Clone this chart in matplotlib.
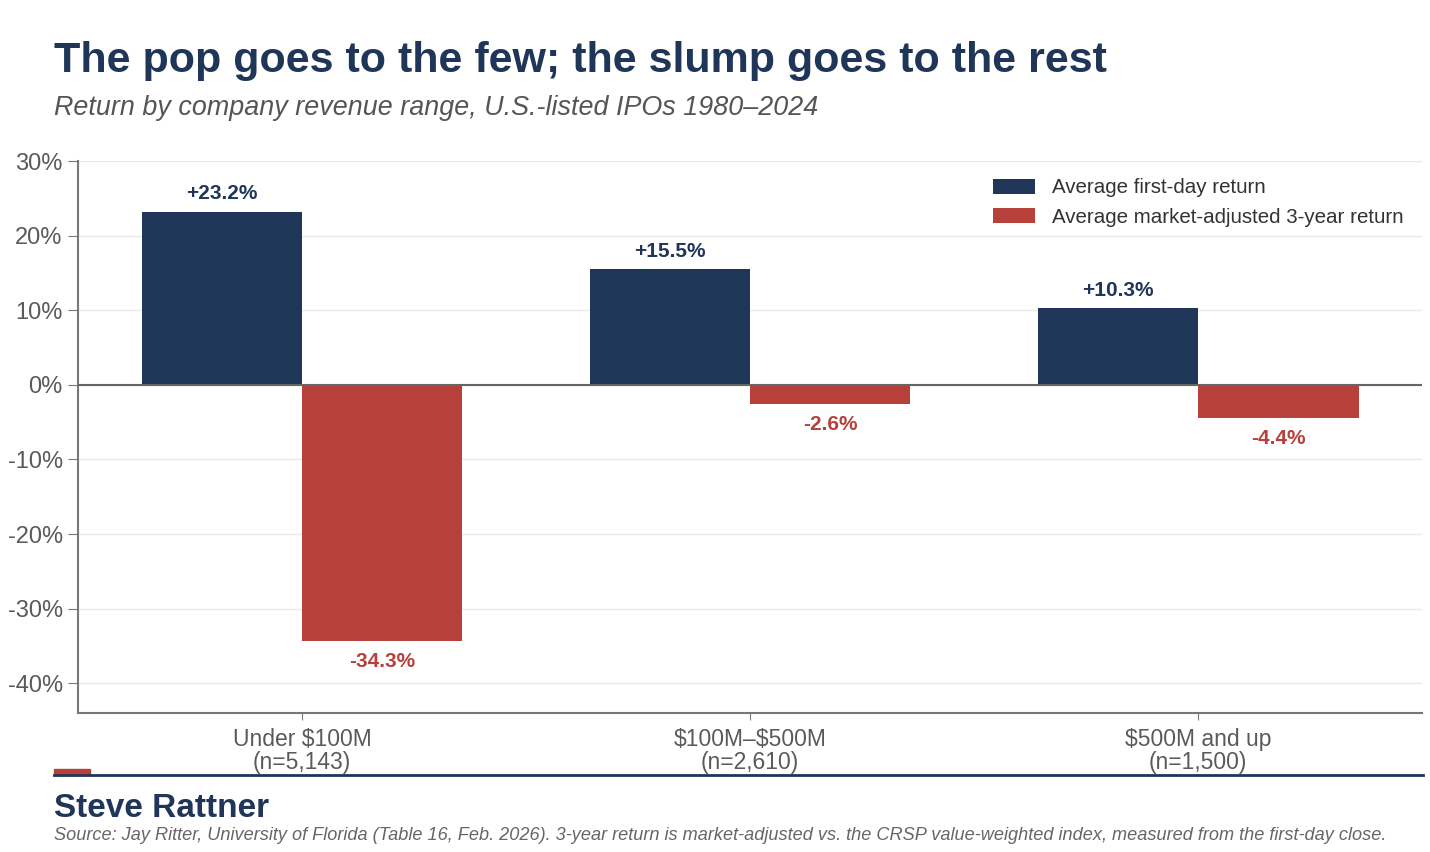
import numpy as np
import matplotlib.pyplot as plt

plt.rcParams['font.family'] = ['Liberation Sans', 'DejaVu Sans']
plt.rcParams['text.parse_math'] = False

# data
categories = ['Under $100M\n(n=5,143)', '$100M–$500M\n(n=2,610)', '$500M and up\n(n=1,500)']
first_day = [23.2, 15.5, 10.3]
three_year = [-34.3, -2.6, -4.4]
yticks = [30, 20, 10, 0, -10, -20, -30, -40]

navy = '#1f3658'
red = '#b8403a'
gray = '#5a5a5a'

fig = plt.figure(figsize=(14.3, 8.52), dpi=100)
ax = fig.add_axes([0.0545, 0.163, 0.94, 0.648])

x = np.arange(len(categories))
w = 0.358
ax.bar(x - w / 2, first_day, w, color=navy, label='Average first-day return', zorder=3)
ax.bar(x + w / 2, three_year, w, color=red, label='Average market-adjusted 3-year return', zorder=3)

# value labels
for xi, v in zip(x - w / 2, first_day):
    ax.annotate(f'+{v:.1f}%', (xi, v), xytext=(0, 6), textcoords='offset points',
                ha='center', va='bottom', fontsize=15, fontweight='bold', color=navy)
for xi, v in zip(x + w / 2, three_year):
    ax.annotate(f'{v:.1f}%', (xi, v), xytext=(0, -8), textcoords='offset points',
                ha='center', va='top', fontsize=15, fontweight='bold', color=red)

ax.set_xlim(-0.5, 2.5)
ax.set_ylim(-44, 30)
ax.set_yticks(yticks)
ax.set_yticklabels([f'{t}%' for t in yticks])
ax.set_xticks(x)
ax.set_xticklabels(categories, linespacing=0.95)
ax.tick_params(axis='y', labelsize=17, labelcolor=gray, color='#777777', length=7, pad=4)
ax.tick_params(axis='x', labelsize=16.5, labelcolor=gray, color='#777777', length=5, pad=6)
ax.grid(axis='y', color='#e8e8e8', linewidth=1, zorder=0)
ax.axhline(0, color='#666666', linewidth=1.5, zorder=4)
for s in ['top', 'right']:
    ax.spines[s].set_visible(False)
for s in ['left', 'bottom']:
    ax.spines[s].set_color('#777777')
    ax.spines[s].set_linewidth(1.5)

ax.legend(loc='upper right', bbox_to_anchor=(1.0, 1.002), frameon=False, fontsize=14.8,
          handlelength=2.0, handleheight=0.75, handletextpad=0.85, labelspacing=0.5,
          labelcolor='#333333')

# titles
fig.text(0.038, 0.928, 'The pop goes to the few; the slump goes to the rest',
         fontsize=31, fontweight='bold', color=navy, va='center')
fig.text(0.038, 0.873, 'Return by company revenue range, U.S.-listed IPOs 1980–2024',
         fontsize=19.4, style='italic', color='#555555', va='center')

# footer
fig.add_artist(plt.Line2D([0.038, 0.995], [0.09, 0.09], color=navy, linewidth=2,
                          transform=fig.transFigure))
fig.add_artist(plt.Rectangle((0.038, 0.09), 0.025, 0.007, color=red,
                             transform=fig.transFigure))
fig.text(0.038, 0.051, 'Steve Rattner', fontsize=24, fontweight='bold', color=navy, va='center')
fig.text(0.038, 0.019, 'Source: Jay Ritter, University of Florida (Table 16, Feb. 2026). 3-year return is '
         'market-adjusted vs. the CRSP value-weighted index, measured from the first-day close.',
         fontsize=13.05, style='italic', color='#666666', va='center')

fig.savefig('out.png', dpi=100)
